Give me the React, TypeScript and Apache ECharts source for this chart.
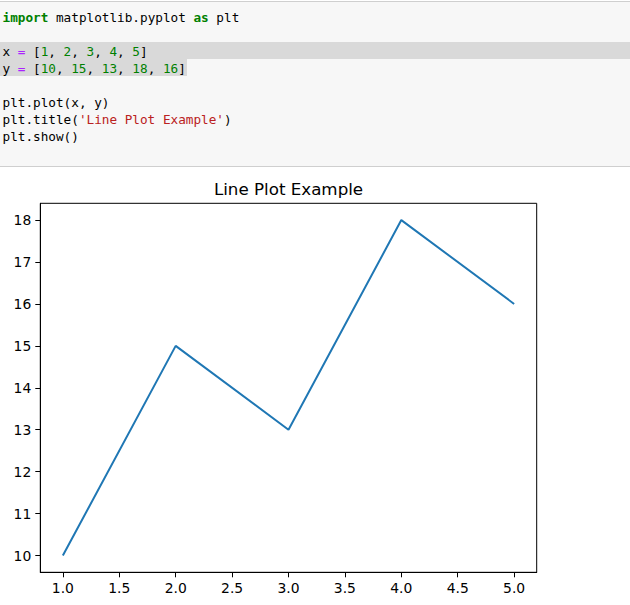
import React, { useEffect, useRef } from "react";
import * as echarts from "echarts";

const xValues = [1, 2, 3, 4, 5];
const yValues = [10, 15, 13, 18, 16];
const xTicks = [1.0, 1.5, 2.0, 2.5, 3.0, 3.5, 4.0, 4.5, 5.0];
const yTicks = [10, 11, 12, 13, 14, 15, 16, 17, 18];
const chartTitle = "Line Plot Example";
const codeLines = [
  "{kw|import} matplotlib.pyplot {kw|as} plt",
  "",
  "x {op|=} [{num|1}, {num|2}, {num|3}, {num|4}, {num|5}]",
  "y {op|=} [{num|10}, {num|15}, {num|13}, {num|18}, {num|16}]",
  "",
  "plt.plot(x, y)",
  "plt.title({str|'Line Plot Example'})",
  "plt.show()",
];

const MONO = "'DejaVu Sans Mono', monospace";
const SANS = "'DejaVu Sans', sans-serif";

export default function App() {
  const ref = useRef<HTMLDivElement>(null);
  useEffect(() => {
    document.body.style.margin = "0";
    if (!ref.current) return;
    const chart = echarts.init(ref.current, null, { renderer: "svg" });
    const fs = 12.7;
    const baseRich = (color: string, weight: string) => ({
      fill: color,
      fontFamily: MONO,
      fontSize: fs,
      fontWeight: weight,
    });
    const codeTexts = codeLines.map((line, i) => ({
      type: "text",
      x: 2.5,
      y: 17 + 17 * i,
      z: 10,
      silent: true,
      style: {
        text: line,
        fill: "#000",
        fontFamily: MONO,
        fontSize: fs,
        verticalAlign: "middle",
        align: "left",
        rich: {
          kw: baseRich("#008000", "bold"),
          op: baseRich("#aa22ff", "normal"),
          num: baseRich("#008000", "normal"),
          str: baseRich("#ba2121", "normal"),
        },
      },
    }));
    chart.setOption({
      animation: false,
      backgroundColor: "#ffffff",
      graphic: [
        { type: "rect", z: 1, silent: true, shape: { x: 0, y: 1, width: 630, height: 165 }, style: { fill: "#f7f7f7" } },
        { type: "rect", z: 2, silent: true, shape: { x: 0, y: 42, width: 630, height: 17 }, style: { fill: "#d9d9d9" } },
        { type: "rect", z: 2, silent: true, shape: { x: 0, y: 59, width: 187, height: 17 }, style: { fill: "#d9d9d9" } },
        { type: "line", z: 3, silent: true, shape: { x1: 0, y1: 1.5, x2: 630, y2: 1.5 }, style: { stroke: "#cfcfcf", lineWidth: 1 } },
        { type: "line", z: 3, silent: true, shape: { x1: 0, y1: 166.5, x2: 630, y2: 166.5 }, style: { stroke: "#cfcfcf", lineWidth: 1 } },
        ...codeTexts,
        {
          type: "text",
          x: 288.5,
          y: 189,
          z: 10,
          silent: true,
          style: {
            text: chartTitle,
            fill: "#000",
            fontFamily: SANS,
            fontSize: 16.7,
            align: "center",
            verticalAlign: "middle",
          },
        },
      ],
      grid: {
        left: 40.3,
        top: 203.3,
        right: 630 - 536.7,
        bottom: 605 - 572.3,
        show: true,
        borderColor: "#000",
        borderWidth: 1,
        backgroundColor: "#fff",
        containLabel: false,
      },
      xAxis: {
        type: "value",
        min: 0.8,
        max: 5.2,
        splitLine: { show: false },
        axisLine: { show: true, lineStyle: { color: "#000", width: 1 } },
        axisTick: { show: true, customValues: xTicks, length: 5, lineStyle: { color: "#000", width: 1 } },
        axisLabel: {
          customValues: xTicks,
          formatter: (v: number) => v.toFixed(1),
          color: "#000",
          fontFamily: SANS,
          fontSize: 13.9,
          margin: 9,
        },
      },
      yAxis: {
        type: "value",
        min: 9.6,
        max: 18.4,
        splitLine: { show: false },
        axisLine: { show: true, lineStyle: { color: "#000", width: 1 } },
        axisTick: { show: true, customValues: yTicks, length: 5, lineStyle: { color: "#000", width: 1 } },
        axisLabel: {
          customValues: yTicks,
          formatter: (v: number) => String(v),
          color: "#000",
          fontFamily: SANS,
          fontSize: 13.9,
          margin: 9,
        },
      },
      series: [
        {
          type: "line",
          data: xValues.map((x, i) => [x, yValues[i]]),
          symbol: "none",
          lineStyle: { color: "#1f77b4", width: 2 },
          itemStyle: { color: "#1f77b4" },
        },
      ],
    });
    return () => chart.dispose();
  }, []);
  return <div ref={ref} style={{ width: 630, height: 605 }} />;
}
